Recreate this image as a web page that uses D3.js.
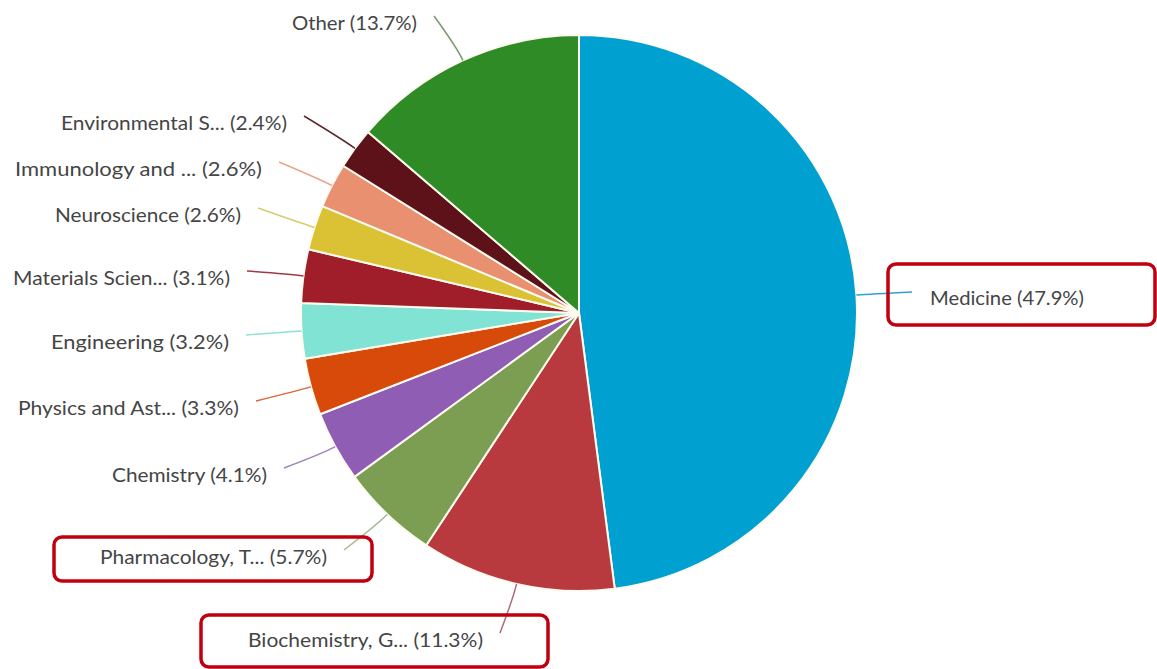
<!DOCTYPE html>
<html>
<head>
<meta charset="utf-8">
<script src="https://cdn.jsdelivr.net/npm/d3@7"></script>
<style>
  html, body { margin: 0; padding: 0; background: #fff; }
  svg { display: block; }
  text { font-family: Lato, "Open Sans", sans-serif; }
</style>
</head>
<body>
<svg id="chart" width="1157" height="669"></svg>
<script>
// ---- data ----
const categories = [
  "Medicine", "Biochemistry, G...", "Pharmacology, T...", "Chemistry",
  "Physics and Ast...", "Engineering", "Materials Scien...", "Neuroscience",
  "Immunology and ...", "Environmental S...", "Other"
];
const shares = [47.9, 11.3, 5.7, 4.1, 3.3, 3.2, 3.1, 2.6, 2.6, 2.4, 13.7];
const colors = [
  "#00a0d1", "#b8393e", "#7c9e52", "#8f5db3",
  "#d84a0a", "#80e3d3", "#a01e29", "#dbc234",
  "#e8906f", "#5c1218", "#2f8b25"
];
const connectorColors = [
  "#2aa4cf", "#b06a70", "#a8b89a", "#9f86bd",
  "#d8683a", "#8fe0d2", "#a03a44", "#d8cc6a",
  "#e8a58a", "#5c2a2e", "#7a9a6a"
];

// ---- layout (label anchors, highlight boxes) ----
const labelLayout = [
  { side: "right", x: 930, y: 298, w: 154 },
  { side: "left", x: 483, y: 640, w: 235 },
  { side: "left", x: 327, y: 557, w: 227 },
  { side: "left", x: 267, y: 475, w: 155 },
  { side: "left", x: 239, y: 408, w: 221 },
  { side: "left", x: 229, y: 342, w: 178 },
  { side: "left", x: 230, y: 278, w: 217 },
  { side: "left", x: 241, y: 215, w: 186 },
  { side: "left", x: 262, y: 169, w: 247 },
  { side: "left", x: 287, y: 123, w: 226 },
  { side: "left", x: 417, y: 23, w: 125 }
];
const highlightBoxes = [
  { x: 888, y: 264, w: 267, h: 61 },
  { x: 54, y: 537, w: 318, h: 44 },
  { x: 201, y: 615, w: 347, h: 52 }
];

const svg = d3.select("#chart");
const cx = 579, cy = 313, R = 278;

const pie = d3.pie().sort(null).value(d => d.value);
const data = categories.map((c, i) => ({ name: c, value: shares[i], i }));
const arcs = pie(data);
const arc = d3.arc().innerRadius(0).outerRadius(R);

const g = svg.append("g").attr("transform", `translate(${cx},${cy})`);

g.selectAll("path.slice")
  .data(arcs)
  .enter().append("path")
  .attr("class", "slice")
  .attr("d", arc)
  .attr("fill", d => colors[d.data.i])
  .attr("stroke", "#fdfbf0")
  .attr("stroke-width", 2)
  .attr("stroke-linejoin", "round");

// labels
const labels = svg.selectAll("text.lbl")
  .data(arcs)
  .enter().append("text")
  .attr("class", "lbl")
  .attr("x", d => labelLayout[d.data.i].x)
  .attr("y", d => labelLayout[d.data.i].y)
  .attr("dy", "0.35em")
  .attr("text-anchor", d => labelLayout[d.data.i].side === "right" ? "start" : "end")
  .attr("font-size", 20)
  .attr("textLength", d => labelLayout[d.data.i].w)
  .attr("lengthAdjust", "spacingAndGlyphs")
  .attr("fill", "#454545")
  .text(d => `${d.data.name} (${d.data.value}%)`);

// connectors
labels.each(function(d) {
  const L = labelLayout[d.data.i];
  const mid = (d.startAngle + d.endAngle) / 2;
  const ex = cx + R * Math.sin(mid), ey = cy - R * Math.cos(mid);
  const kx = cx + (R + 14) * Math.sin(mid), ky = cy - (R + 14) * Math.cos(mid);
  let sx, sy;
  if (L.side === "right") { sx = L.x - 18; sy = L.y - 6; }
  else { sx = L.x + 17; sy = L.y - 7; }
  const p = d3.path();
  p.moveTo(sx, sy);
  p.quadraticCurveTo(kx, ky, ex, ey);
  svg.append("path")
    .attr("d", p.toString())
    .attr("fill", "none")
    .attr("stroke", connectorColors[d.data.i])
    .attr("stroke-width", 1.5);
});

// highlight boxes
svg.selectAll("rect.hl")
  .data(highlightBoxes)
  .enter().append("rect")
  .attr("class", "hl")
  .attr("x", d => d.x).attr("y", d => d.y)
  .attr("width", d => d.w).attr("height", d => d.h)
  .attr("rx", 8).attr("ry", 8)
  .attr("fill", "none")
  .attr("stroke", "#c0000f")
  .attr("stroke-width", 3.5);
</script>
</body>
</html>
